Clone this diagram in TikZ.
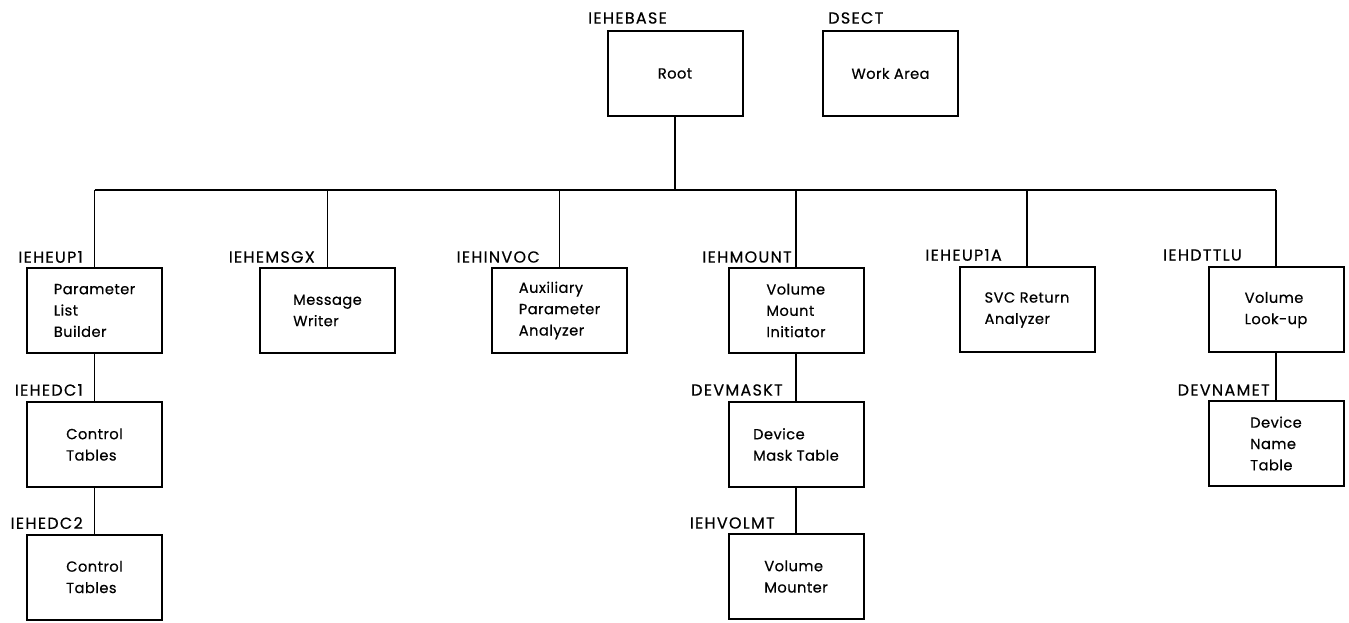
\documentclass[tikz,border=0pt]{standalone}
\usepackage{fontspec}
\setmainfont{Poppins}
\newfontfamily\tagfont[LetterSpace=8,FakeBold=0.4]{Poppins}
\newfontfamily\boxfont[LetterSpace=3,FakeBold=0.4]{Poppins}
\begin{document}
\begin{tikzpicture}[x=0.75pt,y=-0.75pt,
  module/.style={draw,line width=1.5pt,minimum width=101.25pt,minimum height=63.75pt,
    align=left,inner sep=0pt,font=\boxfont\fontsize{11}{16}\selectfont},
  tag/.style={inner sep=0pt,font=\tagfont\fontsize{12}{14}\selectfont},
  link/.style={line width=1pt}]
\useasboundingbox[fill=white] (0,0) rectangle (1349,623);

% top level
\node[module] (root) at (675,73.5) {Root};
\node[module] (work) at (890.5,73.5) {Work Area};
\node[tag,anchor=west] (lroot) at (588,18) {IEHEBASE};
\node[tag,anchor=west] (lwork) at (828,18) {DSECT};

% second level
\node[module] (eup1)  at (94.5,310.5)  {Parameter\\List\\Builder};
\node[module] (msgx)  at (327.5,310.5) {Message\\Writer};
\node[module] (invoc) at (559.5,310.5) {Auxiliary\\Parameter\\Analyzer};
\node[module] (mount) at (796,310.5)   {Volume\\Mount\\Initiator};
\node[module] (eup1a) at (1027,310)    {SVC Return\\Analyzer};
\node[module] (dttlu) at (1276,310)    {Volume\\Look-up};

\node[tag,anchor=east] at (83,257)   {IEHEUP1};
\node[tag,anchor=east] at (315,257)  {IEHEMSGX};
\node[tag,anchor=east] at (540,257)  {IEHINVOC};
\node[tag,anchor=east] at (792,257)  {IEHMOUNT};
\node[tag,anchor=east] at (1002,255) {IEHEUP1A};
\node[tag,anchor=east] at (1242,255) {IEHDTTLU};

% lower levels
\node[module] (dc1)   at (94.5,444.5) {Control\\Tables};
\node[module] (dc2)   at (94.5,577)   {Control\\Tables};
\node[module] (mask)  at (796,444.5)  {Device\\Mask Table};
\node[module] (volmt) at (796,576.5)  {Volume\\Mounter};
\node[module] (dname) at (1276,443.5) {Device\\Name\\Table};

\node[tag,anchor=east] at (83,390)   {IEHEDC1};
\node[tag,anchor=east] at (83,523)   {IEHEDC2};
\node[tag,anchor=east] at (783,390)  {DEVMASKT};
\node[tag,anchor=east] at (775,523)  {IEHVOLMT};
\node[tag,anchor=east] at (1270,390) {DEVNAMET};

% connectors
\coordinate (bus) at (675,190);
\draw[link] (root.south) -- (root.south |- bus);
\draw[link] (eup1.north |- bus) -- (dttlu.north |- bus);
\foreach \n in {eup1,msgx,invoc,mount,eup1a,dttlu}
  \draw[link] (\n.north) -- (\n.north |- bus);
\draw[link] (eup1.south) -- (dc1.north);
\draw[link] (dc1.south) -- (dc2.north);
\draw[link] (mount.south) -- (mask.north);
\draw[link] (mask.south) -- (volmt.north);
\draw[link] (dttlu.south) -- (dname.north);
\end{tikzpicture}
\end{document}
